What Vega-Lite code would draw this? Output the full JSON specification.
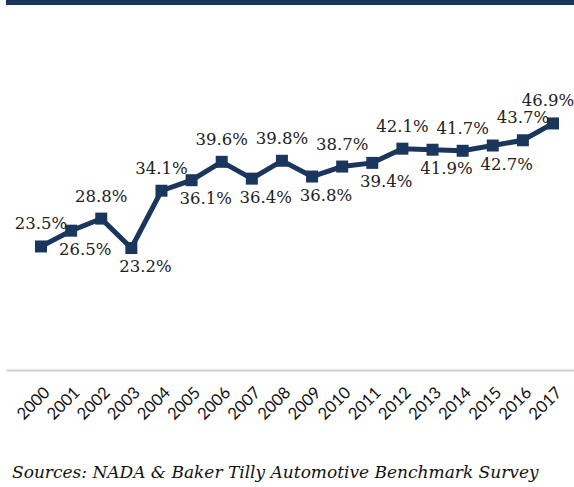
{
  "$schema": "https://vega.github.io/schema/vega-lite/v6.json",
  "width": 568,
  "height": 368,
  "autosize": "none",
  "padding": {"left": 6, "top": 2, "right": 0, "bottom": 117},
  "background": "white",
  "config": {"view": {"stroke": null}},
  "title": {
    "text": "Sources: NADA & Baker Tilly Automotive Benchmark Survey",
    "orient": "bottom",
    "anchor": "start",
    "frame": "group",
    "font": "DejaVu Serif",
    "fontStyle": "italic",
    "fontWeight": "normal",
    "fontSize": 17,
    "color": "#111111",
    "offset": 42,
    "dx": 6
  },
  "data": {
    "values": [
      {"year": "2000", "value": 0.235},
      {"year": "2001", "value": 0.265},
      {"year": "2002", "value": 0.288},
      {"year": "2003", "value": 0.232},
      {"year": "2004", "value": 0.341},
      {"year": "2005", "value": 0.361},
      {"year": "2006", "value": 0.396},
      {"year": "2007", "value": 0.364},
      {"year": "2008", "value": 0.398},
      {"year": "2009", "value": 0.368},
      {"year": "2010", "value": 0.387},
      {"year": "2011", "value": 0.394},
      {"year": "2012", "value": 0.421},
      {"year": "2013", "value": 0.419},
      {"year": "2014", "value": 0.417},
      {"year": "2015", "value": 0.427},
      {"year": "2016", "value": 0.437},
      {"year": "2017", "value": 0.469}
    ]
  },
  "encoding": {
    "x": {
      "field": "year",
      "type": "nominal",
      "scale": {"type": "point", "padding": 0.93, "align": 0.625},
      "axis": {
        "title": null,
        "labelAngle": -45,
        "labelFont": "Lato",
        "labelFontSize": 16.5,
        "labelColor": "#111111",
        "labelPadding": 14,
        "ticks": false,
        "grid": false,
        "domainColor": "#d0d0d0",
        "domainWidth": 2
      }
    },
    "y": {
      "field": "value",
      "type": "quantitative",
      "scale": {"domain": [0, 0.7], "nice": false},
      "axis": null
    }
  },
  "layer": [
    {
      "mark": {"type": "rule", "color": "#1b365d", "strokeWidth": 5},
      "encoding": {"y": {"datum": 0.7}, "x": null}
    },
    {
      "mark": {"type": "line", "color": "#1b365d", "strokeWidth": 5}
    },
    {
      "mark": {"type": "point", "shape": "square", "filled": true, "opacity": 1, "size": 144, "color": "#1b365d"}
    },
    {
      "transform": [{"filter": {"field": "year", "oneOf": ["2000", "2002", "2004", "2006", "2008", "2010", "2012", "2014", "2016"]}}],
      "mark": {"type": "text", "font": "DejaVu Serif", "fontSize": 16.5, "color": "#222222", "align": "center", "baseline": "alphabetic", "dy": -17},
      "encoding": {"text": {"field": "value", "type": "quantitative", "format": ".1%"}}
    },
    {
      "transform": [{"filter": {"field": "year", "oneOf": ["2017"]}}],
      "mark": {"type": "text", "font": "DejaVu Serif", "fontSize": 16.5, "color": "#222222", "align": "center", "baseline": "alphabetic", "dy": -17, "dx": -5},
      "encoding": {"text": {"field": "value", "type": "quantitative", "format": ".1%"}}
    },
    {
      "transform": [{"filter": {"field": "year", "oneOf": ["2001", "2003", "2005", "2007", "2009", "2011", "2013", "2015"]}}],
      "mark": {"type": "text", "font": "DejaVu Serif", "fontSize": 16.5, "color": "#222222", "align": "center", "baseline": "top", "dy": 11, "dx": 14},
      "encoding": {"text": {"field": "value", "type": "quantitative", "format": ".1%"}}
    }
  ]
}
